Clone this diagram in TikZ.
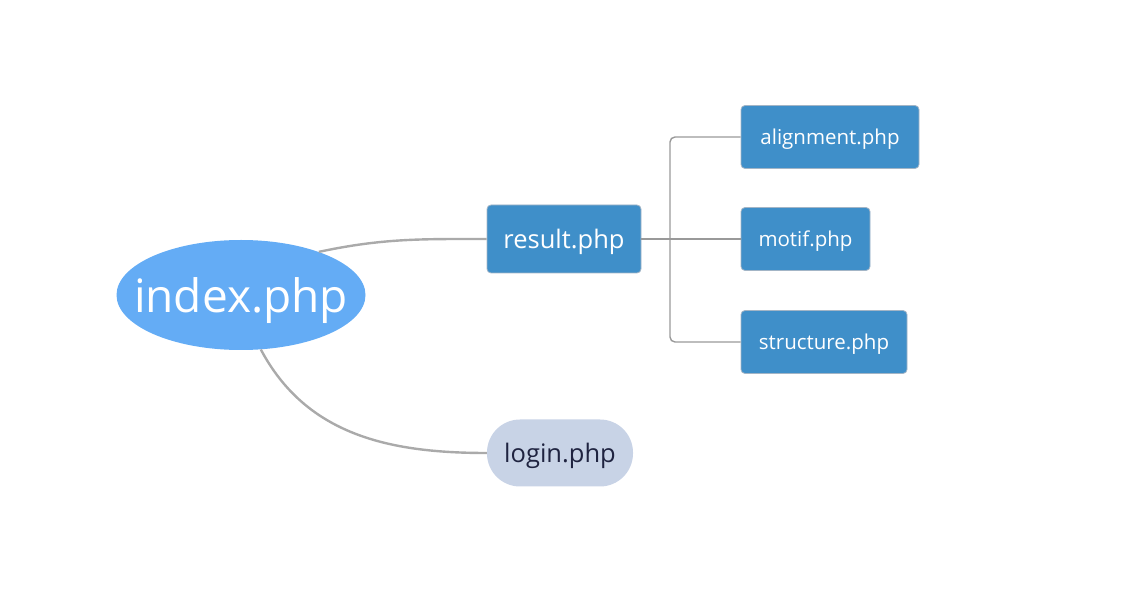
\documentclass[tikz,border=0pt]{standalone}
\usepackage{fontspec}
\setmainfont{Open Sans}
\usetikzlibrary{shapes.geometric}
\definecolor{rootblue}{HTML}{64ACF5}
\definecolor{pagebox}{HTML}{3F8FC9}
\definecolor{boxedge}{HTML}{A3B5C6}
\definecolor{loginfill}{HTML}{C8D3E6}
\definecolor{logintext}{HTML}{1F2340}
\definecolor{curvegray}{HTML}{AAAAAA}
\definecolor{forkgray}{HTML}{999999}
\begin{document}
\begin{tikzpicture}[
        x=1pt, y=-1pt,
        every node/.style={text depth=0pt},
        root/.style={ellipse, fill=rootblue, text=white, minimum width=249pt, minimum height=110pt, inner sep=0pt, font=\fontsize{46}{46}\selectfont},
        page/.style={rectangle, rounded corners=4pt, fill=pagebox, draw=boxedge, line width=0.8pt, text=white, inner xsep=0pt},
        big/.style={page, minimum height=68pt, font=\fontsize{25.5}{25.5}\selectfont},
        small/.style={page, minimum height=63pt, font=\fontsize{20.5}{20.5}\selectfont},
        login/.style={rectangle, rounded corners=33pt, fill=loginfill, text=logintext, minimum height=67pt, minimum width=146pt, inner xsep=0pt, font=\fontsize{25.5}{25.5}\selectfont},
        curve/.style={draw=curvegray, line width=2.4pt},
        fork/.style={draw=forkgray, line width=1.4pt},
    ]
    \useasboundingbox (0,0) rectangle (1136,609);
    \node[root](index) at (241,295){\makebox[0pt]{index.php}};
    \node[big, minimum width=154pt](result) at (564,239){result.php};
    \node[login](login) at (560,453){login.php};
    \node[small, minimum width=178pt](alignment) at (830,137){alignment.php};
    \node[small, minimum width=129pt](motif) at (805.5,239){motif.php};
    \node[small, minimum width=166pt](structure) at (824,342){structure.php};
    \coordinate (split) at (670,239);
    \draw[curve] (index.29) to[out=12,in=180] (result.west);
    \draw[curve] (index.-70) to[out=-62,in=180] (login.west);
    \draw[fork] (result.east) -- (motif.west);
    \draw[fork, rounded corners=5pt] (alignment.west) -| (split) |- (structure.west);
    \end{tikzpicture}
\end{document}
